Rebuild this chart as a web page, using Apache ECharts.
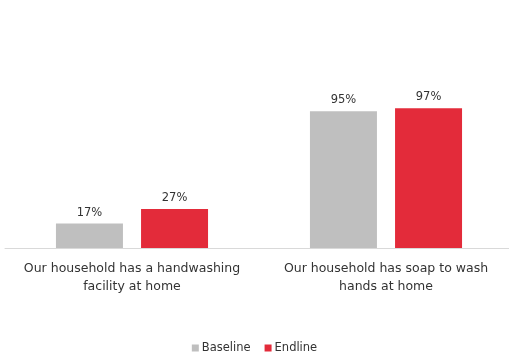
<!DOCTYPE html>
<html>
<head>
<meta charset="utf-8">
<script src="https://cdn.jsdelivr.net/npm/echarts@6/dist/echarts.min.js"></script>
<style>
  html, body { margin: 0; padding: 0; background: #fff; }
  #chart { width: 509px; height: 362px; }
</style>
</head>
<body>
<div id="chart"></div>
<script>
// data
const categories = [
  'Our household has a handwashing\nfacility at home',
  'Our household has soap to wash\nhands at home'
];
const baseline = [17, 95];
const endline = [27, 97];

const chart = echarts.init(document.getElementById('chart'));

const labelStyle = {
  show: true,
  position: 'top',
  distance: 5,
  formatter: p => p.value + '%',
  color: '#333',
  fontSize: 11.5
};

chart.setOption({
  animation: false,
  textStyle: { fontFamily: 'DejaVu Sans' },
  legend: {
    bottom: 3,
    left: 'center',
    itemWidth: 7,
    itemHeight: 7,
    itemGap: 14,
    icon: 'rect',
    textStyle: { color: '#333', fontSize: 11.5, padding: [0, 0, 0, -2] },
    data: ['Baseline', 'Endline']
  },
  grid: { left: 5, width: 508, top: 104, bottom: 114, containLabel: false, outerBoundsMode: 'none' },
  xAxis: {
    type: 'category',
    data: categories,
    axisLine: { lineStyle: { color: '#d9d9d9', width: 1 } },
    axisTick: { show: false },
    axisLabel: {
      color: '#333',
      fontSize: 12.5,
      lineHeight: 18,
      margin: 12,
      interval: 0
    }
  },
  yAxis: {
    type: 'value',
    min: 0,
    max: 100,
    show: false
  },
  series: [
    {
      name: 'Baseline',
      type: 'bar',
      data: baseline,
      barWidth: 67,
      barGap: '27%',
      itemStyle: { color: '#bfbfbf' },
      label: labelStyle
    },
    {
      name: 'Endline',
      type: 'bar',
      data: endline,
      barWidth: 67,
      itemStyle: { color: '#e32b3a' },
      label: labelStyle
    }
  ]
});
</script>
</body>
</html>
